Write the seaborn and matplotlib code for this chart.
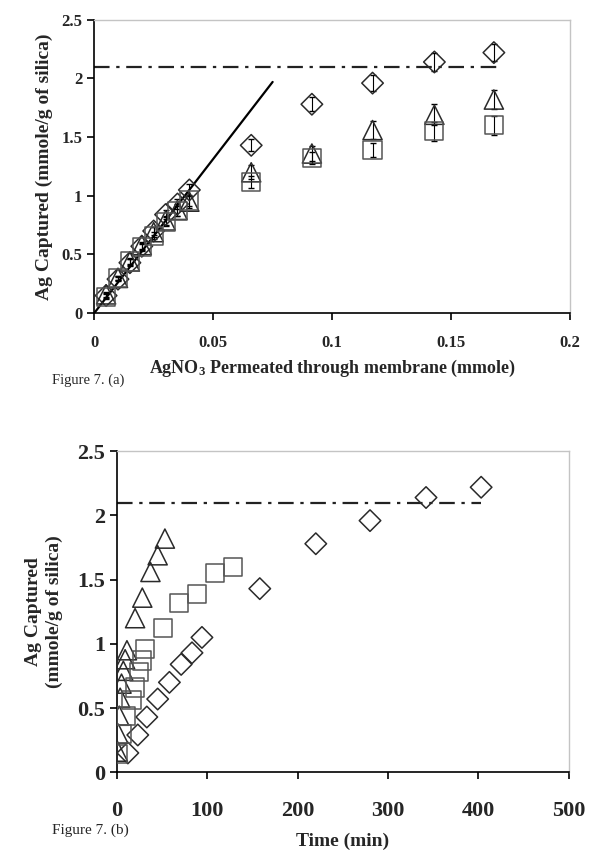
import numpy as np
import pandas as pd
import seaborn as sns
import matplotlib.pyplot as plt

# AgNO3 permeated (mmole) for each capture measurement, panel (a)
x_perm = [0.005, 0.010, 0.015, 0.020, 0.025, 0.030, 0.035, 0.040,
          0.066, 0.0915, 0.117, 0.143, 0.168]

# Ag captured (mmole/g of silica), one list per run
diamond_y = [0.15, 0.29, 0.43, 0.57, 0.70, 0.84, 0.93, 1.05, 1.43, 1.78, 1.96, 2.14, 2.22]
triangle_y = [0.16, 0.30, 0.44, 0.58, 0.69, 0.79, 0.88, 0.95, 1.20, 1.36, 1.56, 1.69, 1.82]
square_y = [0.14, 0.30, 0.44, 0.56, 0.66, 0.78, 0.87, 0.96, 1.12, 1.32, 1.39, 1.55, 1.60]

# error bars (panel a)
diamond_err = [0.02, 0.02, 0.03, 0.03, 0.03, 0.04, 0.04, 0.05, 0.05, 0.06, 0.07, 0.08, 0.07]
triangle_err = [0.02, 0.02, 0.03, 0.03, 0.04, 0.04, 0.05, 0.05, 0.06, 0.06, 0.08, 0.09, 0.08]
square_err = [0.02, 0.02, 0.02, 0.03, 0.03, 0.04, 0.04, 0.05, 0.05, 0.05, 0.06, 0.08, 0.08]

# time (min) for each measurement, panel (b)
diamond_t = [12, 23, 33, 45, 58, 71, 83, 94, 158, 220, 280, 342, 403]
triangle_t = [1, 1.5, 2.5, 3.5, 5, 7, 9, 11, 20, 28, 37, 45, 53]
square_t = [1, 6, 10, 16, 20, 24, 28, 31, 51, 69, 89, 108, 128]

# theoretical capacity and initial linear fit
sat_level = 2.1
sat_x = [0, 0.17]
sat_t = [0, 403]
fit_x = [0, 0.075]
fit_y = [0, 1.97]

sns.set_theme(style="white")
plt.rcParams["font.family"] = ["Liberation Serif", "DejaVu Serif"]
plt.rcParams["font.weight"] = "bold"
plt.rcParams["mathtext.default"] = "regular"

series = [
    ("D", diamond_y, diamond_err, diamond_t, "#2a2a2a", 120),
    ("^", triangle_y, triangle_err, triangle_t, "#2a2a2a", 190),
    ("s", square_y, square_err, square_t, "#555555", 170),
]

fig = plt.figure(figsize=(6.0, 8.58), dpi=100)
ax1 = fig.add_axes([0.157, 0.635, 0.793, 0.342])
ax2 = fig.add_axes([0.195, 0.100, 0.753, 0.374])


def style_axes(ax, fs, pad):
    for side in ["top", "right"]:
        ax.spines[side].set_color("#c4c4c4")
        ax.spines[side].set_linewidth(1.0)
    for side in ["left", "bottom"]:
        ax.spines[side].set_color("black")
        ax.spines[side].set_linewidth(1.2)
    ax.tick_params(axis="both", direction="out", length=5, width=1.2,
                   color="black", labelsize=fs, left=True, bottom=True)
    ax.tick_params(axis="x", pad=pad)
    for lab in ax.get_xticklabels() + ax.get_yticklabels():
        lab.set_fontweight("bold")


# ---- panel (a)
for mk, ys, err, ts, col, s in series:
    ax1.errorbar(x_perm, ys, yerr=err, fmt="none", ecolor="black",
                 elinewidth=0.8, capsize=2.5, capthick=1.0, zorder=2)
    sns.scatterplot(x=x_perm, y=ys, marker=mk, s=s, fc="none", ec=col,
                    linewidth=1.1, ax=ax1, zorder=3)
sns.lineplot(x=fit_x, y=fit_y, color="black", linewidth=1.6, ax=ax1)
sns.lineplot(x=sat_x, y=[sat_level, sat_level], color="#222222",
             linewidth=1.6, linestyle=(0, (7, 3, 1.5, 3)), ax=ax1)
ax1.set_xlim(0, 0.2)
ax1.set_ylim(0, 2.5)
ax1.set_xticks([0, 0.05, 0.1, 0.15, 0.2])
ax1.set_xticklabels(["0", "0.05", "0.1", "0.15", "0.2"])
ax1.set_yticks([0, 0.5, 1, 1.5, 2, 2.5])
ax1.set_yticklabels(["0", "0.5", "1", "1.5", "2", "2.5"])
style_axes(ax1, 12, 11)
ax1.set_xlabel(r"AgNO$_3$ Permeated through membrane (mmole)",
               fontsize=13, fontweight="bold", labelpad=5)
ax1.set_ylabel("Ag Captured (mmole/g of silica)", fontsize=14,
               fontweight="bold", labelpad=6)

# ---- panel (b)
for mk, ys, err, ts, col, s in series:
    sns.scatterplot(x=ts, y=ys, marker=mk, s=s, fc="none", ec=col,
                    linewidth=1.1, ax=ax2, zorder=3)
sns.lineplot(x=sat_t, y=[sat_level, sat_level], color="#222222",
             linewidth=1.6, linestyle=(0, (7, 3, 1.5, 3)), ax=ax2)
ax2.set_xlim(0, 500)
ax2.set_ylim(0, 2.5)
ax2.set_xticks([0, 100, 200, 300, 400, 500])
ax2.set_yticks([0, 0.5, 1, 1.5, 2, 2.5])
ax2.set_yticklabels(["0", "0.5", "1", "1.5", "2", "2.5"])
style_axes(ax2, 16, 16)
ax2.set_xlabel("Time (min)", fontsize=14, fontweight="bold", labelpad=8)
ax2.set_ylabel("Ag Captured\n(mmole/g of silica)", fontsize=14,
               fontweight="bold", labelpad=10, linespacing=1.3)

fig.text(0.087, 0.553, "Figure 7. (a)", fontsize=10.5, fontweight="normal")
fig.text(0.087, 0.028, "Figure 7. (b)", fontsize=11, fontweight="normal")

fig.savefig("out.png", dpi=100, facecolor="white")
